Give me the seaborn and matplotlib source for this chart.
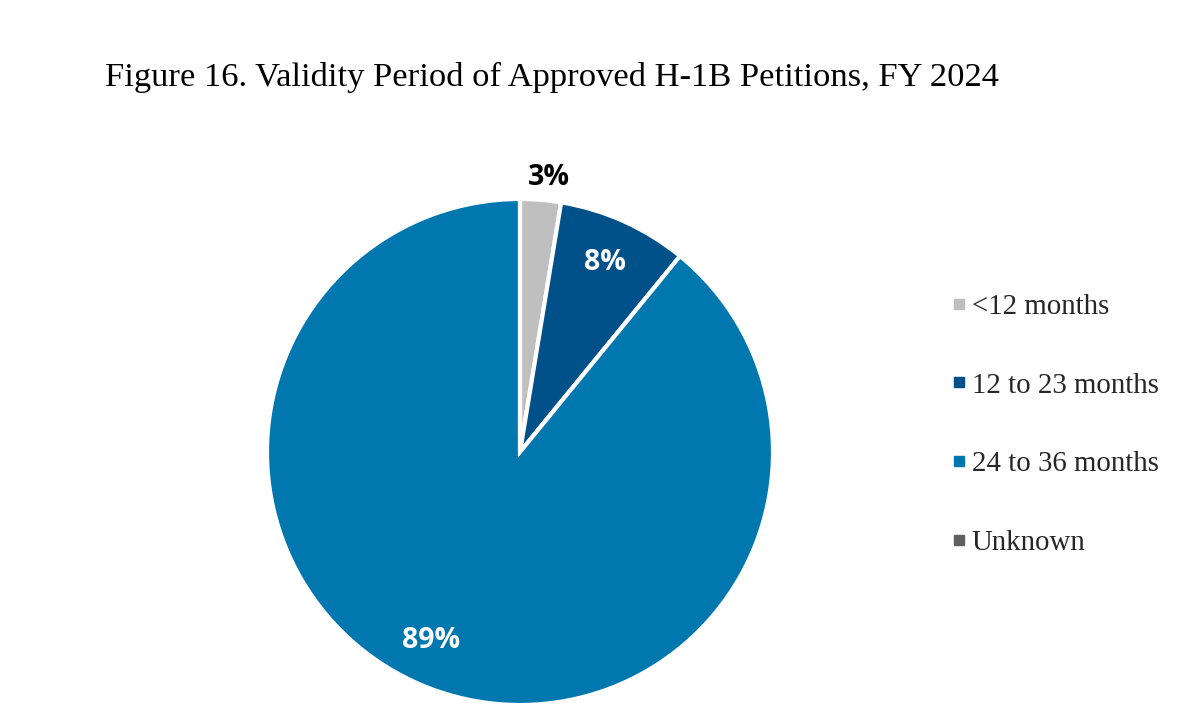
import numpy as np
import pandas as pd
import seaborn as sns
import matplotlib.pyplot as plt
from matplotlib.lines import Line2D

# data
categories = ["<12 months", "12 to 23 months", "24 to 36 months", "Unknown"]
shares = [2.6, 8.3, 89.1, 0.0]
slice_colors = ["#BFBFBF", "#00508A", "#0077AE", "#5F5F5F"]

df = pd.DataFrame({"category": categories, "share": shares, "color": slice_colors})

sns.set_theme(style="white")
plt.rcParams["font.family"] = ["Liberation Serif", "DejaVu Serif"]

fig = plt.figure(figsize=(12.04, 7.16), dpi=100)
fig.patch.set_facecolor("white")

# pie axes, square box so the circle fills it
ax = fig.add_axes([267 / 1204, 11 / 716, 506 / 1204, 506 / 716])
wedges, _, pct_texts = ax.pie(
    df["share"], colors=df["color"], startangle=90, counterclock=False,
    radius=1.0, pctdistance=0.82, autopct="%1.0f%%",
    wedgeprops=dict(edgecolor="white", linewidth=3),
)
ax.set_xlim(-1, 1)
ax.set_ylim(-1, 1)
ax.set_aspect("equal")

for i, t in enumerate(pct_texts):
    t.set_fontfamily(["Open Sans", "DejaVu Sans"])
    t.set_fontweight("bold")
    t.set_fontsize(20.5)
    t.set_color("white")
    if df["share"][i] < 0.5:
        t.set_text("")
    elif df["share"][i] < 5:
        # small slice: label sits outside
        t.set_color("black")
        t.set_position((0.115, 1.085))
    elif df["share"][i] > 50:
        t.set_position((-0.35, -0.745))

fig.text(105 / 1204, 1 - 77 / 716, "Figure 16. Validity Period of Approved H-1B Petitions, FY 2024",
         fontsize=24.8, ha="left", va="center", color="black")

handles = [Line2D([0], [0], marker="s", linestyle="none", markersize=7,
                  markerfacecolor=c, markeredgecolor=c) for c in df["color"]]
fig.legend(handles, df["category"], loc="upper left",
           bbox_to_anchor=(940 / 1204, 1 - 282 / 716), frameon=False,
           fontsize=20.8, labelspacing=1.82, handlelength=0.5,
           handletextpad=0.2, borderaxespad=0)

fig.savefig("out.png", dpi=100, facecolor="white")
